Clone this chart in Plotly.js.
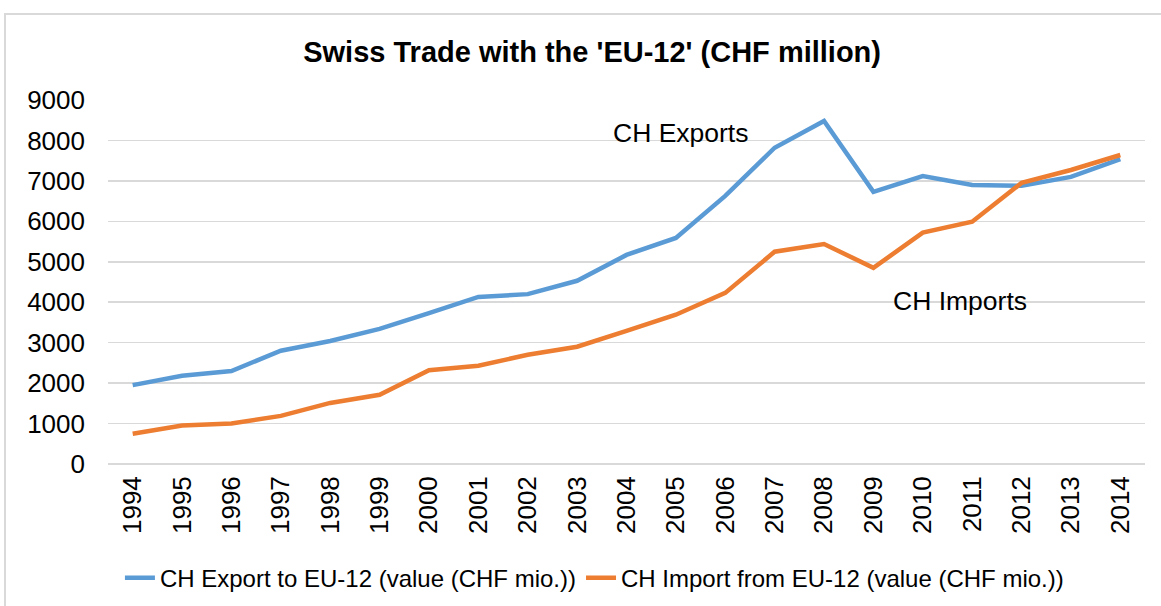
<!DOCTYPE html>
<html>
<head>
<meta charset="utf-8">
<script src="https://cdn.plot.ly/plotly-3.0.1.min.js"></script>
<style>
html,body{margin:0;padding:0;background:#fff;}
#chart{width:1161px;height:606px;}
#frame{position:absolute;left:4px;top:13px;width:1200px;height:700px;border:2px solid #d9d9d9;pointer-events:none;box-sizing:border-box;}
</style>
</head>
<body>
<div id="chart"></div>
<div id="frame"></div>
<script>
const years = ["1994","1995","1996","1997","1998","1999","2000","2001","2002","2003","2004","2005","2006","2007","2008","2009","2010","2011","2012","2013","2014"];
const exportsCH = [1950,2180,2300,2800,3040,3340,3730,4130,4200,4530,5170,5590,6630,7820,8480,6730,7120,6900,6880,7100,7540];
const importsCH = [750,950,1000,1190,1510,1710,2320,2430,2700,2900,3290,3690,4230,5250,5440,4850,5720,5990,6950,7270,7640];
const yTicks = [0,1000,2000,3000,4000,5000,6000,7000,8000,9000];

const font = 'Arial, "Liberation Sans", sans-serif';

const traces = [
  {x: years, y: exportsCH, type: 'scatter', mode: 'lines', name: 'CH Export to EU-12 (value (CHF mio.))',
   line: {color: '#5B9BD5', width: 4.5}},
  {x: years, y: importsCH, type: 'scatter', mode: 'lines', name: 'CH Import from EU-12 (value (CHF mio.))',
   line: {color: '#ED7D31', width: 4.5}}
];

const layout = {
  width: 1161, height: 606,
  margin: {l: 108, r: 16, t: 100, b: 142},
  paper_bgcolor: '#ffffff', plot_bgcolor: '#ffffff',
  font: {family: font, color: '#000000', size: 26},
  title: {text: "<b>Swiss Trade with the 'EU-12' (CHF million)</b>", font: {family: font, size: 29, color: '#000'},
          x: 0.51, xref: 'container', xanchor: 'center', y: 0.914, yref: 'container', yanchor: 'middle'},
  xaxis: {type: 'category', range: [-0.5, 20.5], tickangle: -90, showgrid: false, zeroline: false,
          showline: false, ticks: '', tickfont: {size: 26}, ticklabelstandoff: 6, fixedrange: true},
  yaxis: {range: [0, 9000], tickvals: yTicks, ticktext: yTicks.map(String), showgrid: true,
          gridcolor: '#d9d9d9', gridwidth: 1.5, zeroline: true, zerolinecolor: '#d9d9d9', zerolinewidth: 1.5,
          showline: false, ticks: '', tickfont: {size: 26}, ticklabelstandoff: 22, fixedrange: true},
  legend: {orientation: 'h', xref: 'container', yref: 'container', x: 0.512, xanchor: 'center',
           y: 0.046, yanchor: 'middle', font: {size: 24}, itemwidth: 30, tracegroupgap: 0},
  showlegend: true,
  annotations: [
    {text: 'CH Exports', xref: 'paper', yref: 'paper', x: 0.5516, y: 0.909, showarrow: false,
     font: {size: 26.5, color: '#000'}, xanchor: 'center', yanchor: 'middle'},
    {text: 'CH Imports', xref: 'paper', yref: 'paper', x: 0.8216, y: 0.448, showarrow: false,
     font: {size: 26.5, color: '#000'}, xanchor: 'center', yanchor: 'middle'}
  ]
};

Plotly.newPlot('chart', traces, layout, {displayModeBar: false, staticPlot: true});
</script>
</body>
</html>
